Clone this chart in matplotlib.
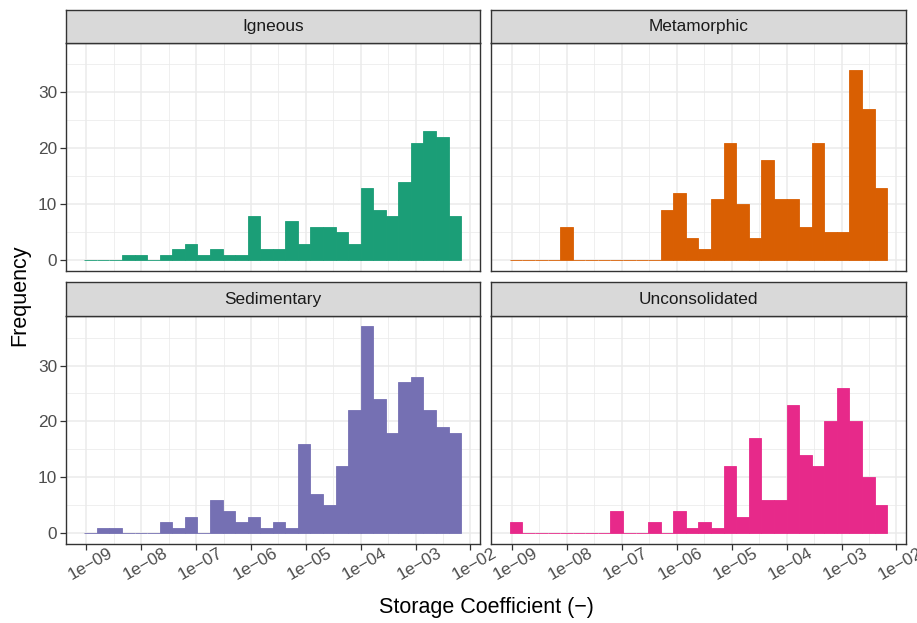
import matplotlib
matplotlib.use("Agg")
import matplotlib.pyplot as plt
import matplotlib.transforms as mtransforms
from matplotlib.ticker import FixedLocator, NullFormatter
import numpy as np

plt.rcParams['font.family'] = ['Liberation Sans', 'DejaVu Sans']

# histogram bins (log10 of storage coefficient), shared by all facets
bin_lo = -9.036
bin_hi = -2.170
n_bins = 30

lithology = ["Igneous", "Metamorphic", "Sedimentary", "Unconsolidated"]
colors = ["#1B9E77", "#D95F02", "#7570B3", "#E7298A"]

igneous = [0, 0, 0, 1, 1, 0, 1, 2, 3, 1, 2, 1, 1, 8, 2, 2, 7, 3, 6, 6,
           5, 3, 13, 9, 8, 14, 21, 23, 22, 8]
metamorphic = [0, 0, 0, 0, 6, 0, 0, 0, 0, 0, 0, 0, 9, 12, 4, 2, 11, 21, 10, 4,
               18, 11, 11, 6, 21, 5, 5, 34, 27, 13]
sedimentary = [0, 1, 1, 0, 0, 0, 2, 1, 3, 0, 6, 4, 2, 3, 1, 2, 1, 16, 7, 5,
               12, 22, 37, 24, 18, 27, 28, 22, 19, 18]
unconsolidated = [2, 0, 0, 0, 0, 0, 0, 0, 4, 0, 0, 2, 0, 4, 1, 2, 1, 12, 3, 17,
                  6, 6, 23, 14, 12, 20, 26, 20, 10, 5]
counts = [igneous, metamorphic, sedimentary, unconsolidated]

x_ticks = [1e-9, 1e-8, 1e-7, 1e-6, 1e-5, 1e-4, 1e-3, 1e-2]
x_ticklabels = ["1e\u221209", "1e\u221208", "1e\u221207", "1e\u221206",
                "1e\u221205", "1e\u221204", "1e\u221203", "1e\u221202"]
y_ticks = [0, 10, 20, 30]

W, H = 917, 623
fig = plt.figure(figsize=(W / 100, H / 100), dpi=100)

edges = np.linspace(bin_lo, bin_hi, n_bins + 1)
span = bin_hi - bin_lo
xlim = (10 ** (bin_lo - 0.05 * span), 10 ** (bin_hi + 0.05 * span))
ymax = max(max(c) for c in counts)
ylim = (-0.05 * ymax, 1.05 * ymax)

# panel boxes in pixels: (left, top, right, bottom)
lefts = [65.5, 491]
rights = [480, 906]
strip_tops = [9.5, 282.3]
panel_tops = [42.7, 316]
panel_bottoms = [270.7, 543.7]

dark = "#333333"
shift = mtransforms.ScaledTranslation(4 / 100, 0, fig.dpi_scale_trans)
for i, name in enumerate(lithology):
    r, c = divmod(i, 2)
    l, rr = lefts[c], rights[c]
    ax = fig.add_axes([l / W, 1 - panel_bottoms[r] / H, (rr - l) / W,
                       (panel_bottoms[r] - panel_tops[r]) / H])
    ax.set_xscale("log")
    left_e = 10 ** edges[:-1]
    right_e = 10 ** edges[1:]
    ax.bar(left_e, counts[i], width=right_e - left_e, align="edge",
           color=colors[i], edgecolor=colors[i], linewidth=0.6, zorder=3)
    ax.set_xlim(*xlim)
    ax.set_ylim(*ylim)
    ax.xaxis.set_major_locator(FixedLocator(x_ticks))
    ax.xaxis.set_minor_locator(FixedLocator([10 ** (k + 0.5) for k in range(-10, -1)]))
    ax.xaxis.set_minor_formatter(NullFormatter())
    ax.yaxis.set_major_locator(FixedLocator(y_ticks))
    ax.yaxis.set_minor_locator(FixedLocator([5, 15, 25, 35]))
    ax.grid(True, which="major", color="#EBEBEB", linewidth=1.1, zorder=0)
    ax.grid(True, which="minor", color="#EBEBEB", linewidth=0.55, zorder=0)
    ax.set_axisbelow(True)
    ax.tick_params(which="minor", length=0)
    ax.tick_params(which="major", length=4, width=0.9, color=dark,
                   labelsize=12.4, labelcolor="#4D4D4D", pad=2)
    if r == 1:
        ax.set_xticks(x_ticks)
        ax.set_xticklabels(x_ticklabels, rotation=30, ha="center", va="top")
        ax.tick_params(axis="x", pad=-3)
        for lab in ax.get_xticklabels():
            lab.set_transform(lab.get_transform() + shift)
    else:
        ax.tick_params(axis="x", which="major", length=0, labelbottom=False)
    if c == 0:
        ax.set_yticklabels([str(v) for v in y_ticks])
    else:
        ax.tick_params(axis="y", which="major", length=0, labelleft=False)
    for s in ax.spines.values():
        s.set_color(dark)
        s.set_linewidth(1.0)
        s.set_zorder(5)

    # facet strip
    sax = fig.add_axes([l / W, 1 - panel_tops[r] / H, (rr - l) / W,
                        (panel_tops[r] - strip_tops[r]) / H])
    sax.set_facecolor("#D9D9D9")
    sax.set_xticks([])
    sax.set_yticks([])
    for s in sax.spines.values():
        s.set_color(dark)
        s.set_linewidth(1.0)
    sax.text(0.5, 0.5, name, ha="center", va="center", fontsize=12.4,
             color="#1A1A1A", transform=sax.transAxes)

fig.text(20 / W, 1 - 295 / H, "Frequency", rotation=90, ha="center",
         va="center", fontsize=15.5)
fig.text(486 / W, 1 - 607 / H, "Storage Coefficient (\u2212)", ha="center",
         va="center", fontsize=15.5)

fig.savefig("out.png", dpi=100)
